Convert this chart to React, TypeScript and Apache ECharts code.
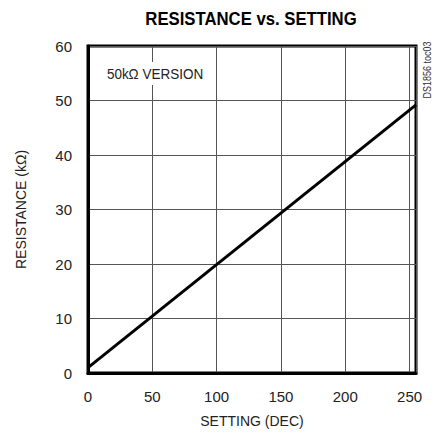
import React, { useEffect, useRef } from "react";
import * as echarts from "echarts";

const xTicks = [0, 50, 100, 150, 200, 250];
const yTicks = [0, 10, 20, 30, 40, 50, 60];
const settingValues = [0, 255];
const resistanceValues = [1.0, 49.2];

const FONT = "'Liberation Sans', Arial, sans-serif";

export default function App() {
  const ref = useRef<HTMLDivElement>(null);
  useEffect(() => {
    if (!ref.current) return;
    const chart = echarts.init(ref.current, null, { renderer: "svg" });
    chart.setOption({
      animation: false,
      backgroundColor: "#ffffff",
      grid: {
        left: 88,
        right: 19,
        top: 46,
        bottom: 63,
        show: true,
        borderColor: "#000",
        borderWidth: 3,
      },
      xAxis: {
        type: "value",
        min: 0,
        max: 255,
        interval: 50,
        name: "SETTING (DEC)",
        nameLocation: "middle",
        nameGap: 41,
        nameTextStyle: { fontFamily: FONT, fontSize: 14, color: "#222" },
        axisLine: { show: true, lineStyle: { color: "#000", width: 3 } },
        axisTick: { show: false },
        axisLabel: {
          fontFamily: FONT,
          fontSize: 15,
          color: "#222",
          margin: 16,
          showMaxLabel: false,
          formatter: (v: number) => (xTicks.includes(v) ? String(v) : ""),
        },
        splitLine: { show: true, lineStyle: { color: "#555", width: 1 } },
      },
      yAxis: {
        type: "value",
        min: 0,
        max: 60,
        interval: 10,
        name: "RESISTANCE (kΩ)",
        nameLocation: "middle",
        nameGap: 60,
        nameTextStyle: { fontFamily: FONT, fontSize: 14, color: "#222" },
        axisLine: { show: true, lineStyle: { color: "#000", width: 3 } },
        axisTick: { show: false },
        axisLabel: {
          fontFamily: FONT,
          fontSize: 15,
          color: "#222",
          margin: 16,
          formatter: (v: number) => (yTicks.includes(v) ? String(v) : ""),
        },
        splitLine: { show: true, lineStyle: { color: "#555", width: 1 } },
      },
      graphic: [
        {
          type: "text",
          x: 251,
          y: 19,
          scaleX: 0.88,
          style: {
            text: "RESISTANCE vs. SETTING",
            fontFamily: FONT,
            fontWeight: "bold",
            fontSize: 19,
            fill: "#000",
            textAlign: "center",
            textVerticalAlign: "middle",
          },
          z: 11,
        },
        {
          type: "rect",
          shape: { x: 100, y: 62, width: 110, height: 23 },
          style: { fill: "#fff" },
          z: 10,
        },
        {
          type: "text",
          x: 155,
          y: 74,
          scaleX: 0.9,
          style: {
            text: "50kΩ VERSION",
            fontFamily: FONT,
            fontSize: 15,
            fill: "#222",
            textAlign: "center",
            textVerticalAlign: "middle",
          },
          z: 11,
        },
        {
          type: "text",
          x: 427,
          y: 70,
          rotation: Math.PI / 2,
          scaleX: 0.9,
          style: {
            text: "DS1856 toc03",
            fontFamily: FONT,
            fontSize: 10,
            fill: "#333",
            textAlign: "center",
            textVerticalAlign: "middle",
          },
          z: 11,
        },
      ],
      series: [
        {
          type: "line",
          data: settingValues.map((s, i) => [s, resistanceValues[i]]),
          symbol: "none",
          lineStyle: { color: "#000", width: 3 },
          z: 5,
        },
      ],
    });
    return () => chart.dispose();
  }, []);
  return (
    <div
      ref={ref}
      style={{ position: "absolute", left: 0, top: 0, width: 435, height: 436 }}
    />
  );
}
